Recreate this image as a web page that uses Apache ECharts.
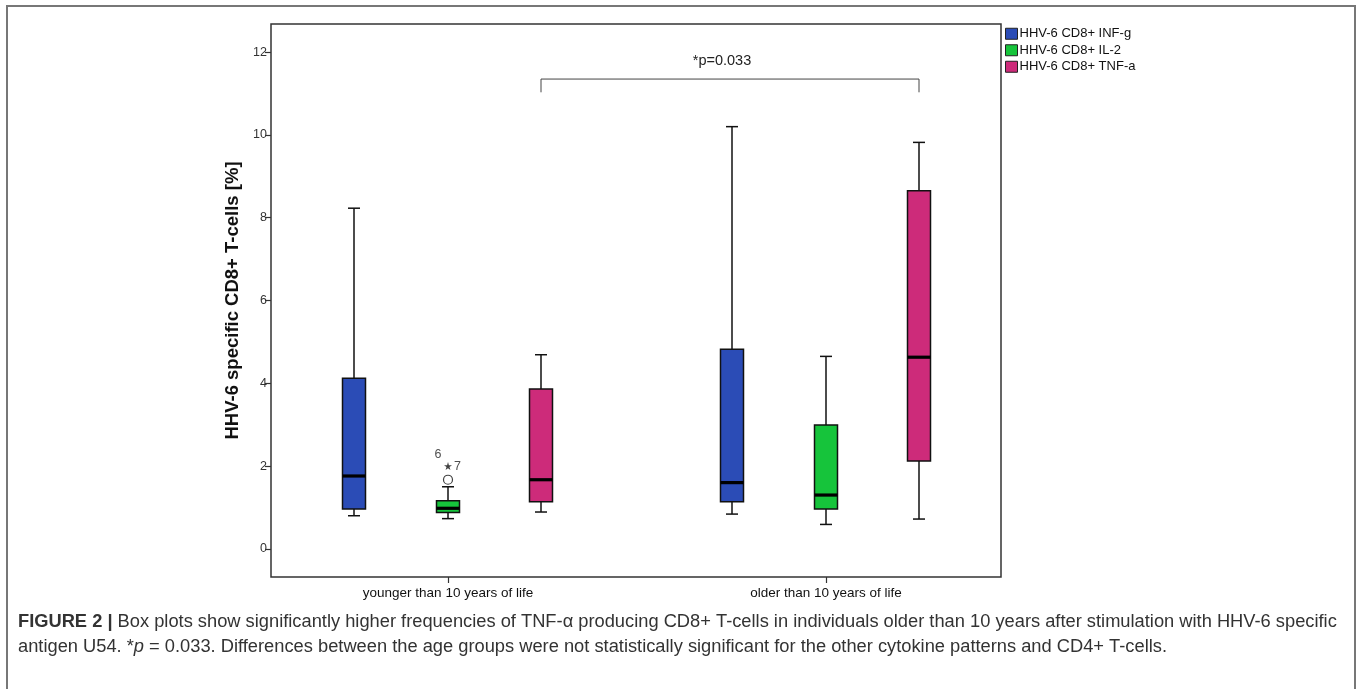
<!DOCTYPE html>
<html>
<head>
<meta charset="utf-8">
<script src="https://cdn.jsdelivr.net/npm/echarts@6/dist/echarts.min.js"></script>
<style>
  html, body { margin: 0; padding: 0; background: #fff; }
  #chart { width: 1358px; height: 689px; }
</style>
</head>
<body>
<div id="chart"></div>
<script>
// ---- data ----
const categories = ['younger than 10 years of life', 'older than 10 years of life'];
const seriesNames = ['HHV-6 CD8+ INF-g', 'HHV-6 CD8+ IL-2', 'HHV-6 CD8+ TNF-a'];
// [lower whisker, Q1, median, Q3, upper whisker]
const infG = [[0.80, 0.96, 1.76, 4.12, 8.23], [0.84, 1.14, 1.60, 4.82, 10.20]];
const il2  = [[0.73, 0.88, 0.98, 1.16, 1.50], [0.59, 0.96, 1.30, 2.99, 4.65]];
const tnfA = [[0.89, 1.14, 1.67, 3.86, 4.69], [0.72, 2.12, 4.63, 8.65, 9.82]];
// IL-2 outliers in the younger group
const il2Outliers = [[0, 1.67]];          // circle
const il2Extremes = [[0, 2.00]];          // star
const outlierLabels = ['6'];
const extremeLabels = ['7'];
const yTicks = [0, 2, 4, 6, 8, 10, 12];
const yMin = -0.68, yMax = 12.68;
const bracketLow = 11.03, bracketHigh = 11.35;
const pText = '*p=0.033';

const colors = ['#2B4CB6', '#16C43B', '#CD2B7A'];
const allBoxes = [infG, il2, tnfA];

const TOP = 24, BOTTOM = 112;
const boxGridLefts = [165, 259, 352];
const boxGridW = 756;
const BOX_W = 23, CAP_W = 12;

const grids = [{ left: 271, right: 357, top: TOP, bottom: BOTTOM, show: true, borderColor: '#333', borderWidth: 1.5, backgroundColor: 'transparent' }];
boxGridLefts.forEach(l => grids.push({ left: l, width: boxGridW, top: TOP, bottom: BOTTOM }));

const xAxes = [{ gridIndex: 0, type: 'value', min: 0, max: 1, show: false }];
const yAxes = [{
  gridIndex: 0, type: 'value', min: yMin, max: yMax,
  name: 'HHV-6 specific CD8+ T-cells [%]', nameLocation: 'middle', nameGap: 28,
  nameTextStyle: { fontFamily: 'Liberation Sans', fontWeight: 'bold', fontSize: 18.5, color: '#111' },
  axisLine: { show: false },
  axisTick: { show: true, length: 6, customValues: yTicks, lineStyle: { color: '#333', width: 1.2 } },
  axisLabel: { customValues: yTicks, fontFamily: 'Liberation Sans', fontSize: 12.5, color: '#333', margin: 4 },
  splitLine: { show: false }
}];
for (let i = 0; i < 3; i++) {
  const visible = i === 1;
  xAxes.push({
    gridIndex: i + 1, type: 'category', data: categories, boundaryGap: true,
    axisLine: { show: false, onZero: false },
    axisTick: { show: visible, alignWithLabel: true, length: 6, lineStyle: { color: '#333', width: 1.2 } },
    axisLabel: { show: visible, fontFamily: 'Liberation Sans', fontSize: 13.5, color: '#111', margin: 9 },
    splitLine: { show: false }
  });
  yAxes.push({ gridIndex: i + 1, type: 'value', min: yMin, max: yMax, show: false });
}

function renderBox(params, api) {
  const x = api.value(0);
  const pLo = api.coord([x, api.value(1)]);
  const pQ1 = api.coord([x, api.value(2)]);
  const pMed = api.coord([x, api.value(3)]);
  const pQ3 = api.coord([x, api.value(4)]);
  const pHi = api.coord([x, api.value(5)]);
  const cx = pLo[0];
  const hw = BOX_W / 2, cw = CAP_W / 2;
  const line = { stroke: '#111', lineWidth: 1.5 };
  return {
    type: 'group',
    children: [
      { type: 'line', shape: { x1: cx, y1: pQ3[1], x2: cx, y2: pHi[1] }, style: line },
      { type: 'line', shape: { x1: cx, y1: pQ1[1], x2: cx, y2: pLo[1] }, style: line },
      { type: 'line', shape: { x1: cx - cw, y1: pHi[1], x2: cx + cw, y2: pHi[1] }, style: line },
      { type: 'line', shape: { x1: cx - cw, y1: pLo[1], x2: cx + cw, y2: pLo[1] }, style: line },
      { type: 'rect', shape: { x: cx - hw, y: pQ3[1], width: BOX_W, height: pQ1[1] - pQ3[1] },
        style: { fill: api.visual('color'), stroke: '#111', lineWidth: 1.5 } },
      { type: 'line', shape: { x1: cx - hw, y1: pMed[1], x2: cx + hw, y2: pMed[1] }, style: { stroke: '#000', lineWidth: 3.2 } }
    ]
  };
}

const series = [];
allBoxes.forEach((boxes, i) => {
  series.push({
    name: seriesNames[i], type: 'custom',
    xAxisIndex: i + 1, yAxisIndex: i + 1,
    renderItem: renderBox,
    itemStyle: { color: colors[i] },
    encode: { x: 0, y: [1, 2, 3, 4, 5] },
    silent: true,
    data: boxes.map((b, k) => [k].concat(b))
  });
});
// bracket for the p-value
series.push({
  type: 'line', xAxisIndex: 3, yAxisIndex: 3, symbol: 'none', silent: true,
  lineStyle: { color: '#444', width: 1 },
  data: [[0, bracketLow], [0, bracketHigh], [1, bracketHigh], [1, bracketLow]]
});
// outliers
series.push({
  type: 'scatter', xAxisIndex: 2, yAxisIndex: 2, symbol: 'circle', symbolSize: 9,
  itemStyle: { color: '#fff', borderColor: '#111', borderWidth: 1.2 }, z: 6,
  label: { show: true, formatter: p => outlierLabels[p.dataIndex], position: 'inside', offset: [-10, -25], fontFamily: 'Liberation Sans', fontSize: 12.5, color: '#222' },
  data: il2Outliers
});
series.push({
  type: 'scatter', xAxisIndex: 2, yAxisIndex: 2,
  symbol: 'path://M50,0 L61,35 L98,35 L68,57 L79,91 L50,70 L21,91 L32,57 L2,35 L39,35 Z', symbolSize: 8,
  itemStyle: { color: '#111' }, z: 6,
  label: { show: true, formatter: p => extremeLabels[p.dataIndex], position: 'right', distance: 2, fontFamily: 'Liberation Sans', fontSize: 12.5, color: '#222' },
  data: il2Extremes
});

const captionFont = 'Liberation Sans';
const CAP_SIZE = 18.3;
const option = {
  animation: false,
  backgroundColor: '#fff',
  grid: grids, xAxis: xAxes, yAxis: yAxes,
  legend: {
    data: seriesNames.map((n, i) => ({ name: n, itemStyle: { color: colors[i], borderColor: '#222', borderWidth: 1 } })),
    orient: 'vertical', left: 1005, top: 27, padding: 0,
    itemWidth: 12, itemHeight: 11, itemGap: 3, icon: 'rect',
    textStyle: { fontFamily: 'Liberation Sans', fontSize: 13, color: '#111', padding: [0, 0, 0, -3], lineHeight: 13.5 },
    selectedMode: false
  },
  series: series,
  graphic: [
    { type: 'rect', shape: { x: 7, y: 6, width: 1348, height: 700 }, style: { fill: 'none', stroke: '#777', lineWidth: 2 }, silent: true },
    { type: 'text', x: 722, y: 61, style: { text: pText, font: '14.5px "Liberation Sans"', fill: '#222', textAlign: 'center', textVerticalAlign: 'middle' } },
    { type: 'text', x: 18, y: 622, style: {
      text: '{b|FIGURE 2 |} Box plots show significantly higher frequencies of TNF-α producing CD8+ T-cells in individuals older than 10 years after stimulation with HHV-6 specific',
      font: CAP_SIZE + 'px "' + captionFont + '"', fill: '#333', textVerticalAlign: 'middle',
      rich: { b: { fontWeight: 'bold', fontFamily: captionFont, fontSize: CAP_SIZE, fill: '#333' } }
    } },
    { type: 'text', x: 18, y: 647, style: {
      text: 'antigen U54. *{i|p} = 0.033. Differences between the age groups were not statistically significant for the other cytokine patterns and CD4+ T-cells.',
      font: CAP_SIZE + 'px "' + captionFont + '"', fill: '#333', textVerticalAlign: 'middle',
      rich: { i: { fontStyle: 'italic', fontFamily: captionFont, fontSize: CAP_SIZE, fill: '#333' } }
    } }
  ]
};
const chart = echarts.init(document.getElementById('chart'), null, { renderer: 'canvas' });
chart.setOption(option);
</script>
</body>
</html>
